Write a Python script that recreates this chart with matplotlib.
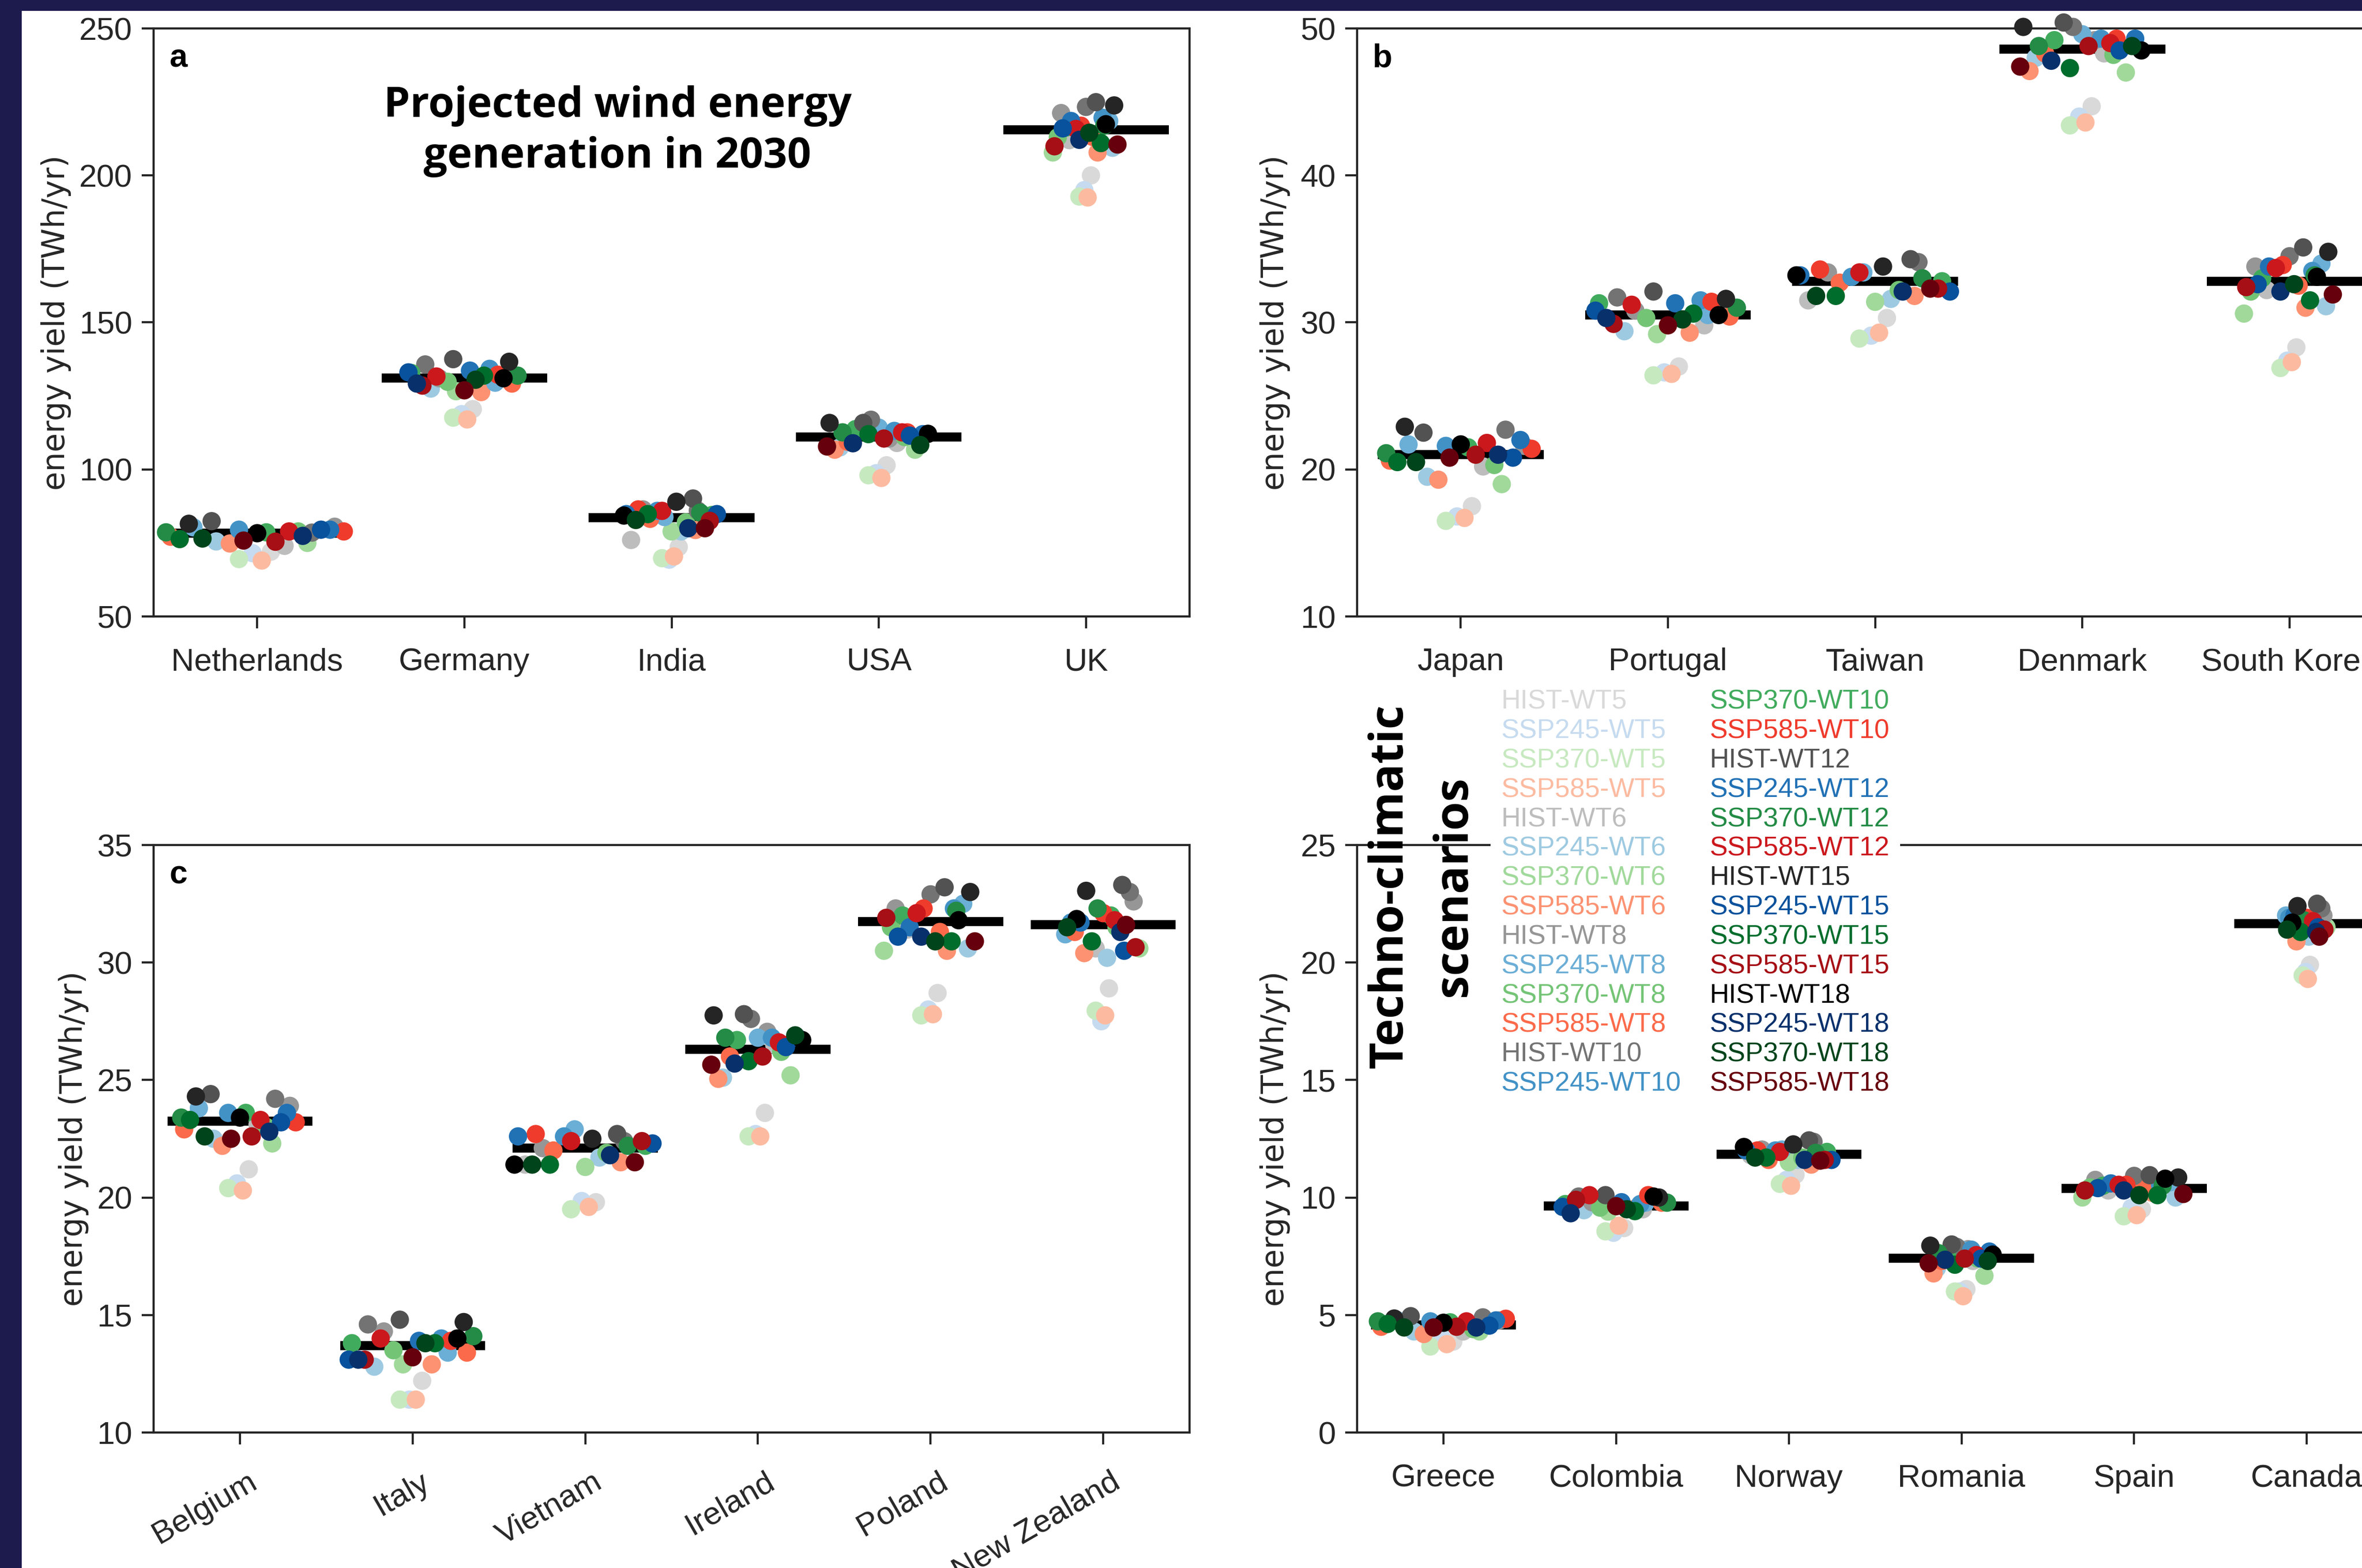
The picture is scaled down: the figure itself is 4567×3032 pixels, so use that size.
import numpy as np
import matplotlib
matplotlib.use("Agg")
import matplotlib.pyplot as plt
from matplotlib.lines import Line2D
from matplotlib.patches import Rectangle
from matplotlib.transforms import ScaledTranslation

plt.rcParams['font.family'] = ['Liberation Sans', 'DejaVu Sans']

# scenario order: for each turbine class -> HIST, SSP245, SSP370, SSP585
turbines = ['WT5', 'WT6', 'WT8', 'WT10', 'WT12', 'WT15', 'WT18']
climates = ['HIST', 'SSP245', 'SSP370', 'SSP585']
scenarios = [c + '-' + t for t in turbines for c in climates]

greys = ['#d9d9d9', '#bdbdbd', '#969696', '#737373', '#525252', '#252525', '#000000']
blues = ['#c6dbef', '#9ecae1', '#6baed6', '#4292c6', '#2171b5', '#08519c', '#08306b']
greens = ['#c7e9c0', '#a1d99b', '#74c476', '#41ab5d', '#238b45', '#006d2c', '#00441b']
reds = ['#fcbba1', '#fc9272', '#fb6a4a', '#ef3b2c', '#cb181d', '#a50f15', '#67000d']
colors = [pal[k] for k in range(7) for pal in (greys, blues, greens, reds)]

# panel a (TWh/yr), 28 values per country in scenario order
countries_a = ['Netherlands', 'Germany', 'India', 'USA', 'UK']
netherlands = [72.0, 71.5, 69.5, 69.0, 74.0, 75.5, 75.0, 74.8, 80.5, 80.3, 78.9, 77.1, 78.5, 79.5,
               78.6, 78.9, 82.4, 79.5, 78.6, 78.9, 81.5, 79.5, 76.3, 75.4, 78.3, 77.4, 76.5, 75.8]
germany = [120.5, 118.8, 117.6, 117.0, 130.0, 127.5, 126.6, 126.3, 131.0, 129.5, 129.8, 129.2, 135.7, 134.2,
           132.8, 132.2, 137.5, 133.6, 131.9, 131.6, 136.6, 133.0, 131.9, 128.5, 131.0, 129.2, 130.5, 126.9]
india = [73.6, 69.3, 69.8, 70.4, 76.0, 78.9, 78.9, 79.4, 86.4, 83.8, 82.0, 83.2, 86.0, 85.9,
         84.5, 86.4, 90.1, 84.8, 85.3, 85.9, 89.0, 84.8, 84.8, 82.5, 84.3, 80.0, 82.8, 80.0]
usa = [101.4, 98.7, 98.0, 97.1, 109.0, 107.5, 106.7, 106.7, 110.5, 114.2, 111.0, 109.4, 116.9, 113.1,
       113.7, 112.6, 115.8, 112.0, 112.6, 112.6, 115.8, 111.5, 112.0, 110.5, 112.1, 108.9, 108.3, 107.8]
uk = [200.0, 195.0, 192.8, 192.5, 212.0, 209.4, 207.8, 207.8, 221.2, 218.5, 213.0, 213.1, 223.3, 219.6,
      216.3, 216.9, 224.9, 218.5, 216.9, 215.8, 223.8, 216.0, 211.0, 209.9, 217.4, 212.1, 214.5, 210.5]
median_a = [78.3, 131.0, 83.5, 111.0, 215.5]

# panel b
countries_b = ['Japan', 'Portugal', 'Taiwan', 'Denmark', 'South Korea']
japan = [17.5, 16.8, 16.5, 16.7, 20.2, 19.5, 19.0, 19.3, 21.6, 21.7, 20.3, 20.6, 22.7, 21.6,
         21.5, 21.4, 22.5, 22.0, 21.1, 21.8, 22.9, 20.8, 20.5, 21.0, 21.7, 21.0, 20.5, 20.8]
portugal = [27.0, 26.6, 26.4, 26.5, 29.8, 29.4, 29.2, 29.3, 30.8, 30.5, 30.3, 30.4, 31.7, 31.5,
            31.3, 31.4, 32.1, 31.3, 31.0, 31.2, 31.6, 30.8, 30.6, 29.9, 30.5, 30.3, 30.2, 29.8]
taiwan = [30.3, 29.1, 28.9, 29.3, 31.5, 31.6, 31.4, 31.8, 33.4, 33.4, 32.2, 32.7, 34.1, 33.1,
          32.8, 33.6, 34.3, 33.2, 33.0, 33.4, 33.8, 32.1, 31.8, 32.3, 33.2, 32.1, 31.8, 32.3]
denmark = [44.7, 44.0, 43.4, 43.6, 48.3, 48.0, 47.0, 47.1, 49.2, 49.6, 48.2, 48.3, 50.1, 49.3,
           49.2, 49.3, 50.4, 49.3, 48.8, 49.0, 50.1, 48.5, 47.3, 48.8, 48.5, 47.8, 48.8, 47.4]
south_korea = [28.3, 27.4, 26.9, 27.3, 32.2, 31.1, 30.6, 31.0, 33.8, 34.0, 32.1, 32.5, 34.5, 33.5,
               33.0, 33.9, 35.1, 33.8, 33.2, 33.7, 34.8, 32.6, 31.5, 32.4, 33.1, 32.1, 32.6, 31.9]
median_b = [21.0, 30.5, 32.8, 48.6, 32.8]

# panel c
countries_c = ['Belgium', 'Italy', 'Vietnam', 'Ireland', 'Poland', 'New Zealand']
belgium = [21.2, 20.6, 20.4, 20.3, 23.1, 22.5, 22.3, 22.2, 23.9, 23.8, 23.0, 22.9, 24.2, 23.6,
           23.6, 23.2, 24.4, 23.6, 23.4, 23.3, 24.3, 23.2, 23.3, 22.6, 23.4, 22.8, 22.6, 22.5]
italy = [12.2, 11.4, 11.4, 11.4, 13.7, 12.8, 12.9, 12.9, 14.3, 13.4, 13.5, 13.4, 14.6, 14.0,
         13.8, 13.9, 14.8, 13.9, 14.1, 14.0, 14.7, 13.1, 13.8, 13.1, 14.0, 13.1, 13.8, 13.2]
vietnam = [19.8, 19.85, 19.5, 19.6, 21.4, 21.7, 21.3, 21.5, 22.1, 22.9, 21.9, 22.0, 22.4, 22.6,
           22.2, 22.7, 22.7, 22.6, 22.2, 22.4, 22.5, 22.3, 21.4, 22.4, 21.4, 21.8, 21.4, 21.5]
ireland = [23.6, 22.7, 22.6, 22.6, 26.5, 25.1, 25.2, 25.05, 27.05, 26.8, 26.2, 26.0, 27.6, 26.8,
           26.7, 26.5, 27.8, 26.8, 26.8, 26.6, 27.75, 26.4, 25.8, 26.0, 26.7, 25.7, 26.9, 25.65]
poland = [28.7, 28.0, 27.75, 27.8, 31.4, 30.6, 30.5, 30.5, 32.3, 32.5, 31.5, 31.3, 32.9, 32.3,
          32.0, 32.3, 33.2, 31.5, 32.2, 32.1, 33.0, 31.1, 30.9, 31.9, 31.8, 31.1, 30.9, 30.9]
new_zealand = [28.9, 27.5, 27.95, 27.75, 30.6, 30.2, 30.6, 30.4, 32.6, 31.2, 31.5, 31.3, 33.0, 31.7,
               32.0, 32.1, 33.3, 31.7, 32.3, 31.8, 33.05, 30.5, 30.9, 30.65, 31.85, 31.3, 31.5, 31.6]
median_c = [23.25, 13.7, 22.1, 26.3, 31.75, 31.6]

# panel d
countries_d = ['Greece', 'Colombia', 'Norway', 'Romania', 'Spain', 'Canada']
greece = [3.87, 4.19, 3.66, 3.76, 4.3, 4.3, 4.3, 4.19, 4.77, 4.77, 4.4, 4.5, 4.9, 4.73,
          4.69, 4.84, 4.95, 4.77, 4.73, 4.73, 4.85, 4.55, 4.62, 4.5, 4.67, 4.47, 4.47, 4.47]
colombia = [8.7, 8.5, 8.56, 8.8, 9.5, 9.46, 9.4, 9.5, 9.8, 9.78, 9.57, 9.78, 10.04, 9.72,
            9.72, 10.1, 10.1, 9.8, 9.78, 10.1, 10.0, 9.6, 9.42, 9.9, 10.04, 9.33, 9.5, 9.63]
norway = [10.97, 10.75, 10.58, 10.5, 11.8, 11.6, 11.5, 11.4, 12.04, 12.04, 11.7, 11.6, 12.37, 12.0,
          11.94, 12.0, 12.43, 12.0, 11.9, 11.94, 12.26, 11.6, 11.7, 11.6, 12.15, 11.6, 11.7, 11.57]
romania = [6.1, 6.0, 6.0, 5.8, 7.3, 6.99, 6.67, 6.77, 7.8, 7.78, 7.4, 7.3, 7.9, 7.78,
           7.6, 7.5, 8.0, 7.7, 7.63, 7.55, 7.95, 7.4, 7.14, 7.4, 7.57, 7.35, 7.3, 7.2]
spain = [9.5, 9.57, 9.2, 9.25, 10.3, 10.0, 10.0, 10.2, 10.75, 10.65, 10.43, 10.54, 10.92, 10.54,
         10.5, 10.54, 10.95, 10.6, 10.5, 10.54, 10.85, 10.4, 10.1, 10.3, 10.8, 10.3, 10.1, 10.15]
canada = [19.9, 19.6, 19.45, 19.3, 21.3, 21.1, 21.5, 20.9, 22.0, 22.0, 21.6, 21.7, 22.3, 21.9,
          21.6, 21.9, 22.5, 22.0, 21.8, 21.76, 22.4, 21.5, 21.3, 21.4, 21.7, 21.3, 21.4, 21.1]
median_d = [4.58, 9.63, 11.83, 7.42, 10.39, 21.66]

# strip layout: base jitter per scenario and horizontal spread per country
jitter = np.array([0.15, -0.05, -0.2, 0.05, 0.3, -0.45, 0.55, -0.3, 0.85, -0.7, 0.45, -0.95, 0.6, -0.2,
                   0.1, 0.95, -0.5, 0.8, -1.0, 0.35, -0.75, 0.7, -0.85, 0.2, 0.0, 0.5, -0.6, -0.15])
spread_a = [0.44, 0.27, 0.23, 0.25, 0.16]
spread_b = [0.36, 0.35, 0.38, 0.30, 0.22]
spread_c = [0.34, 0.37, 0.41, 0.27, 0.27, 0.22]
spread_d = [0.38, 0.31, 0.26, 0.19, 0.30, 0.12]

W, H = 4567, 3032
fig = plt.figure(figsize=(15.224, 10.107), dpi=300)
fig.patch.set_facecolor('white')

# navy slide border (top and left)
navy = '#1d1a4e'
fig.patches.append(Rectangle((0, 1 - 21 / H), 1, 21 / H, transform=fig.transFigure,
                             facecolor=navy, edgecolor='none', zorder=10))
fig.patches.append(Rectangle((0, 0), 42 / W, 1, transform=fig.transFigure,
                             facecolor=navy, edgecolor='none', zorder=10))


def rect(left, top, right, bottom):
    return [left / W, 1 - bottom / H, (right - left) / W, (bottom - top) / H]


def draw_panel(ax, names, values, medians, spread, half, ylim, yticks, letter, label_x, rotate=False):
    for i, (vals, med, sp) in enumerate(zip(values, medians, spread)):
        offs = np.concatenate([jitter[:4], np.roll(jitter[4:], 3 * i)])
        ax.plot([i - half, i + half], [med, med], color='black', lw=4.2,
                solid_capstyle='butt', zorder=2)
        ax.scatter(i + offs * sp, vals, c=colors, s=72, linewidths=0, zorder=3, clip_on=False)
    ax.set_xlim(-0.5, len(names) - 0.5)
    ax.set_ylim(*ylim)
    ax.set_yticks(yticks)
    ax.set_xticks(range(len(names)))
    for s in ax.spines.values():
        s.set_linewidth(1.0)
        s.set_color('#262626')
    ax.tick_params(axis='both', length=5.5, width=1.0, color='#262626', labelsize=14.8,
                   labelcolor='#262626')
    ax.tick_params(axis='y', pad=4.3)
    ax.tick_params(axis='x', pad=9.0)
    if rotate:
        ax.set_xticklabels(names, rotation=30, ha='right', va='top', rotation_mode='anchor')
        shift = ScaledTranslation(3.4 / 72, -1.5 / 72, fig.dpi_scale_trans)
        for lab in ax.get_xticklabels():
            lab.set_transform(lab.get_transform() + shift)
    else:
        ax.set_xticklabels(names)
    ax.set_ylabel('energy yield (TWh/yr)', fontsize=14.3, family='DejaVu Sans', color='#262626')
    ax.yaxis.set_label_coords(label_x, 0.5)
    ax.text(0.015, 0.975, letter, transform=ax.transAxes, ha='left', va='top',
            fontsize=15, fontweight='bold')


ax_a = fig.add_axes(rect(297, 55, 2300, 1192))
ax_b = fig.add_axes(rect(2624, 55, 4627, 1192))
ax_c = fig.add_axes(rect(297, 1634, 2300, 2770))
ax_d = fig.add_axes(rect(2624, 1634, 4627, 2770))

draw_panel(ax_a, countries_a, [netherlands, germany, india, usa, uk], median_a, spread_a, 0.4,
           (50, 250), [50, 100, 150, 200, 250], 'a', -0.0794)
draw_panel(ax_b, countries_b, [japan, portugal, taiwan, denmark, south_korea], median_b, spread_b, 0.4,
           (10, 50), [10, 20, 30, 40, 50], 'b', -0.0644)
draw_panel(ax_c, countries_c, [belgium, italy, vietnam, ireland, poland, new_zealand], median_c, spread_c,
           0.42, (10, 35), [10, 15, 20, 25, 30, 35], 'c', -0.0624, rotate=True)
draw_panel(ax_d, countries_d, [greece, colombia, norway, romania, spain, canada], median_d, spread_d,
           0.42, (0, 25), [0, 5, 10, 15, 20, 25], 'd', -0.0644)
ax_d.texts[-1].set_visible(False)

fig.text(1194 / W, 1 - 254 / H, 'Projected wind energy\ngeneration in 2030', ha='center', va='center',
         multialignment='center', fontsize=19.5, fontweight='bold', family='Open Sans',
         linespacing=1.3)

fig.text(2750 / W, 1 - 1714 / H, 'Techno-climatic\nscenarios', rotation=90, ha='center', va='center',
         multialignment='center', fontsize=21.6, fontweight='bold', family='Open Sans',
         linespacing=1.5)

handles = [Line2D([], [], linestyle='none') for _ in scenarios]
fig.legend(handles, scenarios, loc='upper left', bbox_to_anchor=(2882 / W, 1 - 1312 / H), ncol=2,
           frameon=True, facecolor='white', edgecolor='none', framealpha=1, fancybox=False,
           handlelength=0, handletextpad=0, borderpad=0.4, borderaxespad=0, columnspacing=1.05,
           labelspacing=0.15, fontsize=12.5, labelcolor=colors)

fig.savefig('out.png', dpi=300, facecolor='white')
